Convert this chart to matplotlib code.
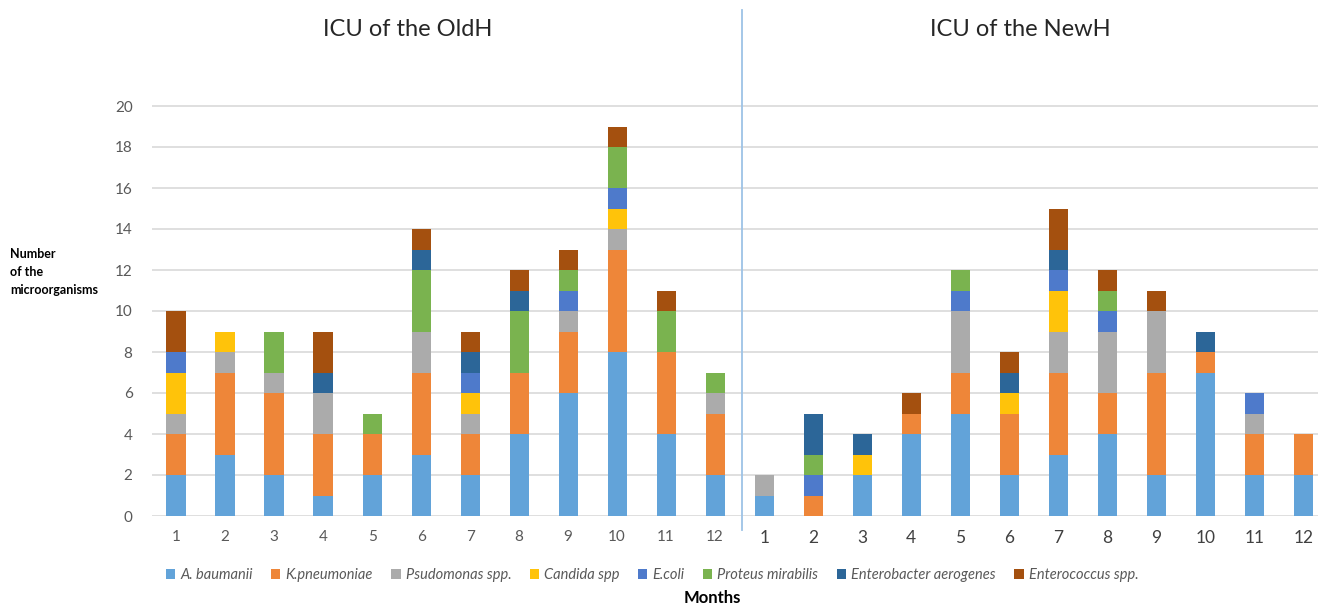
import numpy as np
import matplotlib.pyplot as plt

# month labels for both hospitals
months = [str(m) for m in range(1, 13)]

species = ['A. baumanii', 'K.pneumoniae', 'Psudomonas spp.', 'Candida spp',
           'E.coli', 'Proteus mirabilis', 'Enterobacter aerogenes', 'Enterococcus spp.']
colors = ['#62A3D9', '#EE8639', '#ABABAB', '#FFC30A',
          '#4E7ACB', '#7AB34F', '#2C6698', '#A4500F']

# OldH ICU, months 1-12
old_baumanii   = [2, 3, 2, 1, 2, 3, 2, 4, 6, 8, 4, 2]
old_kpneum     = [2, 4, 4, 3, 2, 4, 2, 3, 3, 5, 4, 3]
old_pseudo     = [1, 1, 1, 2, 0, 2, 1, 0, 1, 1, 0, 1]
old_candida    = [2, 1, 0, 0, 0, 0, 1, 0, 0, 1, 0, 0]
old_ecoli      = [1, 0, 0, 0, 0, 0, 1, 0, 1, 1, 0, 0]
old_proteus    = [0, 0, 2, 0, 1, 3, 0, 3, 1, 2, 2, 1]
old_enterobac  = [0, 0, 0, 1, 0, 1, 1, 1, 0, 0, 0, 0]
old_enterococ  = [2, 0, 0, 2, 0, 1, 1, 1, 1, 1, 1, 0]

# NewH ICU, months 1-12
new_baumanii   = [1, 0, 2, 4, 5, 2, 3, 4, 2, 7, 2, 2]
new_kpneum     = [0, 1, 0, 1, 2, 3, 4, 2, 5, 1, 2, 2]
new_pseudo     = [1, 0, 0, 0, 3, 0, 2, 3, 3, 0, 1, 0]
new_candida    = [0, 0, 1, 0, 0, 1, 2, 0, 0, 0, 0, 0]
new_ecoli      = [0, 1, 0, 0, 1, 0, 1, 1, 0, 0, 1, 0]
new_proteus    = [0, 1, 0, 0, 1, 0, 0, 1, 0, 0, 0, 0]
new_enterobac  = [0, 2, 1, 0, 0, 1, 1, 0, 0, 1, 0, 0]
new_enterococ  = [0, 0, 0, 1, 0, 1, 2, 1, 1, 0, 0, 0]

old = [old_baumanii, old_kpneum, old_pseudo, old_candida,
       old_ecoli, old_proteus, old_enterobac, old_enterococ]
new = [new_baumanii, new_kpneum, new_pseudo, new_candida,
       new_ecoli, new_proteus, new_enterobac, new_enterococ]

plt.rcParams['font.family'] = ['Lato', 'DejaVu Sans']

fig = plt.figure(figsize=(13.18, 6.07), dpi=100)
ax = fig.add_axes([152 / 1318, 91 / 607, 1166 / 1318, 430.5 / 607])

x = np.arange(24)
bottom = np.zeros(24)
for name, col, o, n in zip(species, colors, old, new):
    vals = np.array(o + n, dtype=float)
    ax.bar(x, vals, 0.39, bottom=bottom, color=col, label=name, zorder=3)
    bottom += vals

ax.set_xlim(-0.49, 23.3)
ax.set_ylim(0, 21)
ax.set_yticks(range(0, 21, 2))
ax.yaxis.grid(True, color='#d9d9d9', linewidth=1.2, zorder=0)
for s in ax.spines.values():
    s.set_visible(False)
ax.tick_params(length=0, colors='#595959', labelsize=11)
ax.tick_params(axis='y', pad=14)
ax.set_xticks(x)
ax.set_xticklabels(months + months)
for i, lab in enumerate(ax.get_xticklabels()):
    lab.set_fontsize(11 if i < 12 else 12.5)
    lab.set_color('#404040' if i >= 12 else '#595959')
ax.tick_params(axis='x', pad=10)

# divider between the two hospitals
ax.axvline(11.55, ymin=-0.033, ymax=1.175, color='#9dc3e6', linewidth=1.3, clip_on=False)

fig.text(408 / 1318, 1 - 30 / 607, 'ICU of the OldH', ha='center', va='center', fontsize=17, color='#262626')
fig.text(1020 / 1318, 1 - 30 / 607, 'ICU of the NewH', ha='center', va='center', fontsize=17, color='#262626')
fig.text(10 / 1318, 1 - 272 / 607, 'Number\nof the\nmicroorganisms', ha='left', va='center',
         fontsize=9, fontweight='bold', linespacing=1.6)
fig.text(712 / 1318, 1 - 598 / 607, 'Months', ha='center', va='center', fontsize=12, fontweight='bold')

leg = fig.legend(loc='center', bbox_to_anchor=(652 / 1318, 1 - 575 / 607), ncol=8, frameon=False,
                 handlelength=0.65, handleheight=0.65, handletextpad=0.35, columnspacing=1.25,
                 prop={'style': 'italic', 'size': 10.5})
for t in leg.get_texts():
    t.set_color('#595959')

fig.savefig('out.png', dpi=100)
